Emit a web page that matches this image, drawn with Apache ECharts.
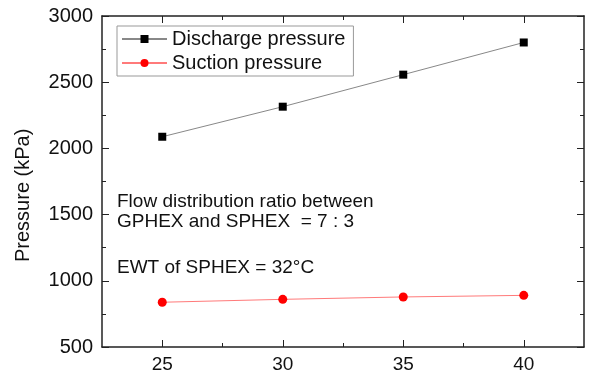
<!DOCTYPE html>
<html>
<head>
<meta charset="utf-8">
<script src="https://cdn.jsdelivr.net/npm/echarts@6/dist/echarts.min.js"></script>
<style>
  html, body { margin: 0; padding: 0; background: #fff; }
  #chart { width: 590px; height: 383px; }
</style>
</head>
<body>
<div id="chart"></div>
<script>
// Condensing temperature steps (°C)
const temps = [25, 30, 35, 40];
// Pressures (kPa)
const dischargePressure = [2088, 2315, 2557, 2800];
const suctionPressure = [838, 860, 878, 890];
// Axis tick positions
const xMajorTicks = [25, 30, 35, 40];
const xMinorTicks = [27.5, 32.5, 37.5];
const noteLines = ['Flow distribution ratio between', 'GPHEX and SPHEX  = 7 : 3', 'EWT of SPHEX = 32°C'];

const FONT = '"Liberation Sans", Arial, sans-serif';
const AXIS_COLOR = '#222';

function xAxisDef(position, ticks, len, withLabels, withLine) {
  return {
    type: 'value', position: position, min: 22.5, max: 42.5, interval: 2.5,
    axisLine: { show: withLine, onZero: false, lineStyle: { color: AXIS_COLOR, width: 1.5 } },
    axisTick: { show: true, inside: true, length: len, customValues: ticks, lineStyle: { color: AXIS_COLOR, width: 1 } },
    axisLabel: withLabels
      ? { show: true, customValues: xMajorTicks, color: '#111', fontFamily: FONT, fontSize: 19, margin: 8 }
      : { show: false },
    splitLine: { show: false }
  };
}

function yAxisDef(position, withLabels) {
  return {
    type: 'value', position: position, min: 500, max: 3000, interval: 500,
    axisLine: { show: true, onZero: false, lineStyle: { color: AXIS_COLOR, width: 1.5 } },
    axisTick: { show: true, inside: true, length: 7, lineStyle: { color: AXIS_COLOR, width: 1 } },
    minorTick: { show: true, splitNumber: 2, length: 4, lineStyle: { color: AXIS_COLOR, width: 1 } },
    axisLabel: withLabels
      ? { show: true, color: '#111', fontFamily: FONT, fontSize: 20, margin: 9, formatter: v => String(v) }
      : { show: false },
    splitLine: { show: false }
  };
}

const chart = echarts.init(document.getElementById('chart'));
chart.setOption({
  animation: false,
  backgroundColor: '#fff',
  grid: { left: 102, right: 6, top: 16, bottom: 36, containLabel: false },
  xAxis: [
    xAxisDef('bottom', xMajorTicks, 7, true, true),
    xAxisDef('bottom', xMinorTicks, 4, false, false),
    xAxisDef('top', xMajorTicks, 7, false, true),
    xAxisDef('top', xMinorTicks, 4, false, false)
  ],
  yAxis: [
    yAxisDef('left', true),
    yAxisDef('right', false)
  ],
  legend: {
    orient: 'vertical',
    left: 117, top: 26,
    width: 237,
    padding: [3, 8, 3, 4],
    itemGap: 4,
    itemWidth: 45,
    itemHeight: 10,
    borderColor: '#999',
    borderWidth: 1,
    borderRadius: 0,
    backgroundColor: '#fff',
    textStyle: { color: '#111', fontFamily: FONT, fontSize: 20, lineHeight: 20 },
    data: ['Discharge pressure', 'Suction pressure']
  },
  graphic: [
    {
      type: 'text', left: 117, top: 192,
      style: { text: noteLines[0], font: '19px ' + FONT, fill: '#111' }
    },
    {
      type: 'text', left: 117, top: 212,
      style: { text: noteLines[1], font: '19px ' + FONT, fill: '#111' }
    },
    {
      type: 'text', left: 117, top: 258,
      style: { text: noteLines[2], font: '19px ' + FONT, fill: '#111' }
    },
    {
      type: 'text', x: 23, y: 262, rotation: Math.PI / 2,
      style: { text: 'Pressure (kPa)', font: '20px ' + FONT, fill: '#111', textAlign: 'left', textVerticalAlign: 'middle' }
    }
  ],
  series: [
    {
      name: 'Discharge pressure',
      type: 'line',
      data: temps.map((t, i) => [t, dischargePressure[i]]),
      symbol: 'rect', symbolSize: 8,
      itemStyle: { color: '#000' },
      lineStyle: { color: '#888', width: 1 }
    },
    {
      name: 'Suction pressure',
      type: 'line',
      data: temps.map((t, i) => [t, suctionPressure[i]]),
      symbol: 'circle', symbolSize: 9,
      itemStyle: { color: '#ff0000' },
      lineStyle: { color: '#ff7a7a', width: 1 }
    }
  ]
});
</script>
</body>
</html>
